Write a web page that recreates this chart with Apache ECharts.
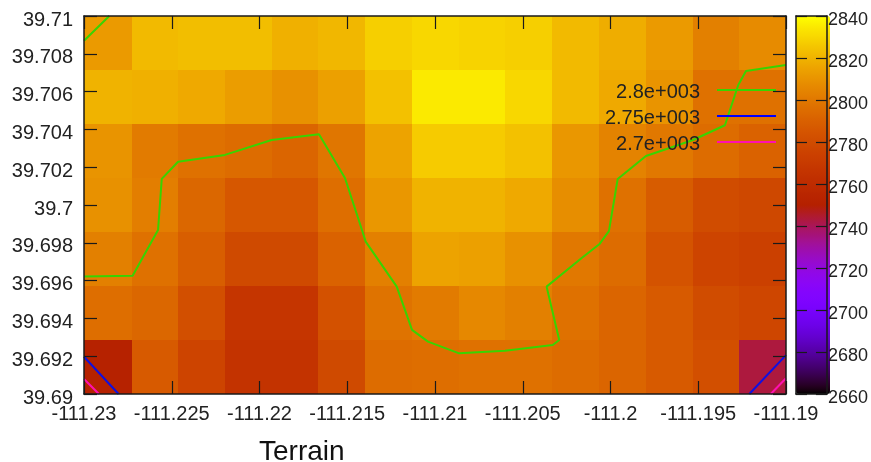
<!DOCTYPE html>
<html>
<head>
<meta charset="utf-8">
<style>html,body{margin:0;padding:0;background:#fff}#c{width:871px;height:462px}</style>
<script src="https://cdn.jsdelivr.net/npm/echarts@6/dist/echarts.min.js"></script>
</head>
<body>
<div id="c"></div>
<script>
// Cell boundaries
const lonEdges = [-111.23,-111.22726,-111.22464,-111.22197,-111.21929,-111.21667,-111.21399,-111.21131,-111.20863,-111.20601,-111.20333,-111.20065,-111.19798,-111.1953,-111.19268,-111.19];
const latEdges = [39.71,39.70714,39.70429,39.70143,39.69857,39.69571,39.69286,39.69];

// Elevation per cell, north row first
const row0 = [2812,2822,2823,2823,2819,2821,2828,2830,2829,2828,2822,2818,2812,2803,2807];
const row1 = [2820,2819,2817,2813,2809,2814,2824,2835,2835,2830,2822,2817,2810,2797,2797];
const row2 = [2810,2801,2797,2795,2792,2799,2815,2827,2827,2824,2811,2804,2800,2795,2791];
const row3 = [2809,2802,2793,2786,2786,2796,2811,2820,2820,2817,2808,2797,2788,2780,2778];
const row4 = [2803,2797,2789,2779,2779,2791,2803,2815,2814,2809,2800,2795,2784,2776,2774];
const row5 = [2796,2793,2782,2767,2767,2783,2798,2801,2806,2803,2797,2792,2787,2780,2777];
const row6 = [2752,2787,2776,2765,2765,2779,2795,2796,2797,2797,2795,2792,2787,2782,2743];
const rows = [row0,row1,row2,row3,row4,row5,row6];

// Contour lines [lon, lat]
const contour2800Main = [[-111.23,39.69622],[-111.22723,39.69626],[-111.22578,39.69868],[-111.22557,39.70138],[-111.22464,39.70229],[-111.22197,39.70265],[-111.21931,39.70344],[-111.21661,39.70374],[-111.21513,39.70143],[-111.21416,39.69868],[-111.21395,39.69806],[-111.21218,39.69568],[-111.21131,39.69339],[-111.2104,39.69277],[-111.20862,39.69215],[-111.20601,39.69229],[-111.20329,39.69259],[-111.20292,39.69286],[-111.20364,39.69568],[-111.20164,39.6972],[-111.20064,39.69792],[-111.20009,39.69862],[-111.19959,39.70138],[-111.19798,39.70259],[-111.1953,39.70344],[-111.19348,39.70422],[-111.19272,39.70635],[-111.19228,39.70709],[-111.19,39.70741]];
const contour2800Corner = [[-111.23,39.70869],[-111.22856,39.71]];
const contour2750Left = [[-111.23,39.69197],[-111.22803,39.69]];
const contour2750Right = [[-111.19209,39.69],[-111.19,39.69206]];
const contour2700Left = [[-111.23,39.69079],[-111.22915,39.69]];
const contour2700Right = [[-111.19087,39.69],[-111.19,39.69083]];

const colorMin = 2660, colorMax = 2840;
const BREAK = [null,null];
const FONT = '"Liberation Sans", Arial, sans-serif';
const INK = '#1a1a1a';
// thin bar at the top of a taller box, so the key sits above the text's middle
const KEY_ICON = 'path://M0 0H590V20H0Z M0 60H590V60.01H0Z';

// gnuplot default pm3d palette (7,5,15)
const palette = [];
for (let i = 0; i <= 72; i++) {
  const t = i / 72;
  const to = v => Math.round(255 * Math.max(0, Math.min(1, v)));
  palette.push('rgb(' + to(Math.sqrt(t)) + ',' + to(t*t*t) + ',' + to(Math.sin(2*Math.PI*t)) + ')');
}

const cells = [];
rows.forEach((r, j) => r.forEach((v, i) => {
  cells.push([lonEdges[i], lonEdges[i+1], latEdges[j+1], latEdges[j], v]);
}));

const frameLine = {show:true, onZero:false, lineStyle:{color:INK, width:1.5}};
const tick = len => ({show:true, inside:true, length:len, lineStyle:{color:INK, width:1.2}});
const lonAxis = {type:'value', min:-111.23, max:-111.19, interval:0.005, z:10, splitLine:{show:false}, axisLine:frameLine, axisTick:tick(13)};
const latAxis = {type:'value', min:39.69, max:39.71, interval:0.002, z:10, splitLine:{show:false}, axisLine:frameLine, axisTick:tick(13)};
const barY = {type:'value', gridIndex:1, min:colorMin, max:colorMax, interval:20, z:10, splitLine:{show:false}, axisLine:frameLine, axisTick:tick(11)};
const barX = {type:'value', gridIndex:1, min:0, max:1, z:10, splitLine:{show:false}, axisLine:frameLine, axisTick:{show:false}, axisLabel:{show:false}};

const contourSeries = (name, color, segs) => {
  const data = [];
  segs.forEach((s, k) => { if (k) data.push(BREAK); s.forEach(p => data.push(p)); });
  return {name, type:'line', data, symbol:'none', showSymbol:false, connectNulls:false, z:3, silent:true,
          lineStyle:{color, width:2}, itemStyle:{color}, emphasis:{disabled:true}};
};

const chart = echarts.init(document.getElementById('c'), null, {renderer:'canvas'});
chart.setOption({
  animation:false,
  backgroundColor:'#fff',
  title:{text:'Terrain', left:259, top:438, padding:0, textStyle:{fontFamily:FONT, fontSize:28, fontWeight:'normal', color:'#111'}},
  grid:[
    {left:84, top:16, width:702, height:378},
    {left:796, top:16, width:34, height:378}
  ],
  xAxis:[
    Object.assign({}, lonAxis, {position:'bottom', axisLabel:{show:true, margin:10, fontFamily:FONT, fontSize:20, color:'#222'}}),
    Object.assign({}, lonAxis, {position:'top', axisLabel:{show:false}}),
    Object.assign({}, barX, {position:'bottom'}),
    Object.assign({}, barX, {position:'top'})
  ],
  yAxis:[
    Object.assign({}, latAxis, {position:'left', axisLabel:{show:true, margin:11, fontFamily:FONT, fontSize:20, color:'#222', verticalAlign:'top', lineHeight:8}}),
    Object.assign({}, latAxis, {position:'right', axisLabel:{show:false}}),
    Object.assign({}, barY, {position:'left', axisLabel:{show:false}}),
    Object.assign({}, barY, {position:'right', axisLabel:{show:true, margin:1, formatter:v => String(v), fontFamily:'"Liberation Sans", sans-serif', fontSize:18, color:'#222', verticalAlign:'top', lineHeight:9}})
  ],
  visualMap:{
    type:'continuous', seriesIndex:0, dimension:4, min:colorMin, max:colorMax,
    inRange:{color:palette}, calculable:false, text:null, showLabel:false,
    left:796, top:16, itemWidth:34, itemHeight:378, padding:0, z:1, orient:'vertical'
  },
  legend:{
    data:[{name:'2.8e+003',icon:KEY_ICON,itemStyle:{color:'#38d400'}},{name:'2.75e+003',icon:KEY_ICON,itemStyle:{color:'#0000ff'}},{name:'2.7e+003',icon:KEY_ICON,itemStyle:{color:'#ff10b0'}}],
    selectedMode:false, orient:'vertical', align:'right',
    right:95, top:82, padding:0, itemGap:6, itemWidth:59, itemHeight:6, z:6,
    lineStyle:{width:0},
    textStyle:{fontFamily:FONT, fontSize:20, color:'#222', lineHeight:20, padding:[0,12,0,0]}
  },
  series:[
    {type:'custom', coordinateSystem:'cartesian2d', xAxisIndex:0, yAxisIndex:0, z:1, silent:true,
     data:cells, encode:{x:[0,1], y:[2,3]}, dimensions:['x0','x1','y0','y1','elevation'],
     clip:true,
     renderItem:(params, api) => {
       const a = api.coord([api.value(0), api.value(3)]);
       const b = api.coord([api.value(1), api.value(2)]);
       const x = Math.round(a[0]), y = Math.round(a[1]);
       return {type:'rect', shape:{x, y, width:Math.round(b[0])-x, height:Math.round(b[1])-y},
               style:{fill:api.visual('color')}};
     }},
    contourSeries('2.8e+003','#38d400',[contour2800Main, contour2800Corner]),
    contourSeries('2.75e+003','#1010e0',[contour2750Left, contour2750Right]),
    contourSeries('2.7e+003','#ff10b0',[contour2700Left, contour2700Right])
  ]
});
</script>
</body>
</html>
